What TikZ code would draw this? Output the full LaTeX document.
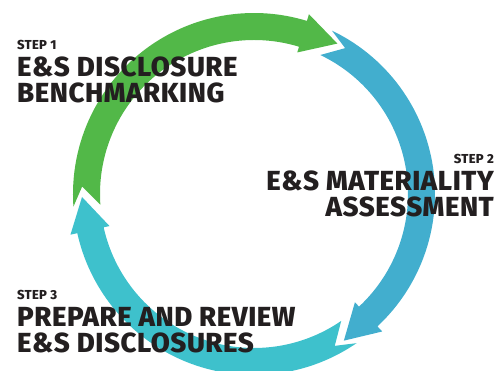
\documentclass[tikz,border=0pt]{standalone}
\usepackage{fontspec}
\setsansfont{Fira Sans}[BoldFont={Fira Sans ExtraBold}, LetterSpace=2]
\usetikzlibrary{positioning}

\definecolor{stepgreen}{HTML}{52B848}
\definecolor{stepblue}{HTML}{42AECE}
\definecolor{stepcyan}{HTML}{3EC1CC}
\definecolor{steptext}{HTML}{231F20}

\tikzset{
    steplabel/.style={inner sep=0pt, text=steptext, font=\sffamily\bfseries\fontsize{13}{14}\selectfont},
    steptitle/.style={inner sep=0pt, text=steptext, font=\sffamily\bfseries\fontsize{27.6}{28}\selectfont}
}

\begin{document}
\begin{tikzpicture}[x=1pt, y=1pt]
            \useasboundingbox (-254,-177) rectangle (244,194);

            % ring of three arrows, tail / wing / tip angles
            \foreach \col/\t/\w/\p in {stepgreen/184/73/61, stepblue/64.5/-47/-58.5, stepcyan/-55.5/-167.5/-179}{
                \fill[\col] (\t:181) arc[start angle=\t, end angle=\w, radius=181]
                    -- (\w:188) -- (\p:172) -- (\w:148) -- (\w:154)
                    arc[start angle=\w, end angle=\t, radius=154]
                    -- ({\t-6.5}:172) -- cycle;
            }

            \node[steplabel, anchor=base west] (s1) at (-237,144) {STEP 1};
            \node[steptitle, anchor=base west] (s1a) at (-237,117) {E\&S DISCLOSURE};
            \node[steptitle, anchor=base west] (s1b) at (-237,91) {BENCHMARKING};

            \node[steplabel, anchor=base east] (s2) at (240,30) {STEP 2};
            \node[steptitle, anchor=base east] (s2a) at (240,3) {E\&S MATERIALITY};
            \node[steptitle, anchor=base east] (s2b) at (240,-23) {ASSESSMENT};

            \node[steplabel, anchor=base west] (s3) at (-237,-106) {STEP 3};
            \node[steptitle, anchor=base west] (s3a) at (-237,-133) {PREPARE AND REVIEW};
            \node[steptitle, anchor=base west] (s3b) at (-237,-159) {E\&S DISCLOSURES};
        \end{tikzpicture}
\end{document}
